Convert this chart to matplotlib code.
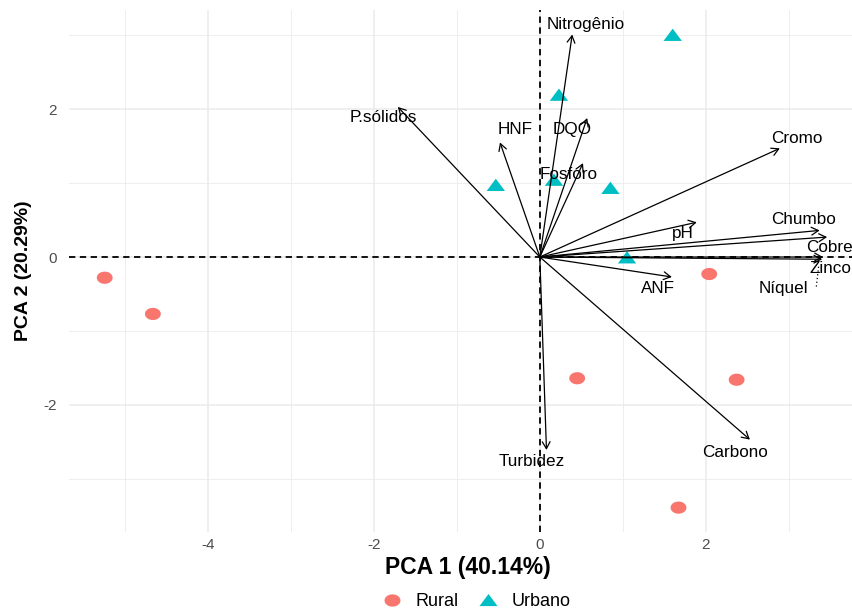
import numpy as np
import matplotlib
matplotlib.use("Agg")
import matplotlib.pyplot as plt
from matplotlib.path import Path
from matplotlib.lines import Line2D
from matplotlib import font_manager

# =========================
# DADOS
# =========================

# escores das amostras (PCA 1, PCA 2)
rural_x = [-5.24, -4.66, 0.45, 2.04, 2.37, 1.67]
rural_y = [-0.28, -0.77, -1.64, -0.23, -1.66, -3.39]

urbano_x = [1.60, 0.23, -0.53, 0.17, 0.85, 1.05]
urbano_y = [3.00, 2.19, 0.97, 1.04, 0.93, -0.01]

# cargas das variaveis (ponta das setas)
variaveis = ["Nitrogênio", "P.sólidos", "HNF", "DQO", "Fosforo", "Cromo", "pH",
             "Chumbo", "Cobre", "Zinco", "Níquel", "ANF", "Turbidez", "Carbono"]
carga_x = [0.39, -1.71, -0.48, 0.57, 0.52, 2.89, 1.89,
           3.37, 3.46, 3.41, 3.40, 1.59, 0.08, 2.53]
carga_y = [3.01, 2.03, 1.55, 1.88, 1.27, 1.47, 0.47,
           0.36, 0.27, 0.00, -0.03, -0.27, -2.61, -2.47]

# posicao dos rotulos (repel)
rotulo_x = [0.55, -1.89, -0.30, 0.39, 0.35, 3.10, 1.72,
            3.18, 3.49, 3.50, 2.93, 1.42, -0.10, 2.35]
rotulo_y = [3.15, 1.89, 1.72, 1.73, 1.12, 1.61, 0.32,
            0.51, 0.135, -0.15, -0.42, -0.43, -2.77, -2.65]

var_pc1 = 40.14
var_pc2 = 20.29

cor_rural = "#F8766D"
cor_urbano = "#00BFC4"

# =========================
# FONTES E MARCADORES
# =========================

plt.rcParams["font.family"] = ["Liberation Sans", "DejaVu Sans"]
plt.rcParams["axes.unicode_minus"] = False
nomes = {f.name for f in font_manager.fontManager.ttflist}
fonte_y = "Liberation Sans Narrow" if "Liberation Sans Narrow" in nomes else "Liberation Sans"

# a imagem original esta esticada na horizontal
t = np.linspace(0, 2 * np.pi, 60)
elipse = Path(np.column_stack([1.3 * np.cos(t), np.sin(t)]), closed=True)
triangulo = Path([(-1, -0.62), (1, -0.62), (0, 0.72), (-1, -0.62)], closed=True)

# =========================
# GRAFICO
# =========================

fig = plt.figure(figsize=(8.53, 6.09), dpi=100)
ax = fig.add_axes([0.0809, 0.1264, 0.9355, 0.857])

ax.scatter(rural_x, rural_y, marker=elipse, s=130, color=cor_rural,
           edgecolors="none", zorder=3)
ax.scatter(urbano_x, urbano_y, marker=triangulo, s=175, color=cor_urbano,
           edgecolors="none", zorder=3)

ax.axhline(0, color="black", lw=1.3, ls=(0, (3.5, 2.5)), zorder=2)
ax.axvline(0, color="black", lw=1.3, ls=(0, (3.5, 2.5)), zorder=2)

for nome, cx, cy, lx, ly in zip(variaveis, carga_x, carga_y, rotulo_x, rotulo_y):
    ax.annotate("", xy=(cx, cy), xytext=(0, 0),
                arrowprops=dict(arrowstyle="->,head_length=0.5,head_width=0.28",
                                lw=0.9, color="black", shrinkA=0, shrinkB=0,
                                mutation_scale=10),
                zorder=4)
    ax.text(lx, ly, nome, ha="center", va="center", fontsize=12.3,
            color="black", zorder=5)

# segmento do rotulo do Niquel
ax.plot([3.33, 3.36], [-0.40, -0.10], color="black", lw=0.9, ls=(0, (1, 2)), zorder=4)

ax.set_xlim(-5.67, 3.94)
ax.set_ylim(-3.72, 3.34)

ax.set_xticks([-4, -2, 0, 2])
ax.set_yticks([-2, 0, 2])
ax.set_xticks([-5, -3, -1, 1, 3], minor=True)
ax.set_yticks([-3, -1, 1, 3], minor=True)
ax.grid(which="major", color="#EBEBEB", lw=1.1)
ax.grid(which="minor", color="#EBEBEB", lw=0.6)
ax.set_axisbelow(True)
for s in ax.spines.values():
    s.set_visible(False)
ax.tick_params(which="both", length=0, labelsize=11, labelcolor="#4D4D4D")
ax.tick_params(axis="x", pad=4)
ax.tick_params(axis="y", pad=9)

ax.set_xlabel(f"PCA 1 ({var_pc1}%)", fontsize=16.5, fontweight="bold", labelpad=3)
ax.set_ylabel(f"PCA 2 ({var_pc2}%)", fontsize=14, fontweight="bold",
              family=[fonte_y, "DejaVu Sans"], labelpad=8)

legenda = [
    Line2D([], [], marker=elipse, ls="none", color=cor_rural, markersize=11.5,
           markeredgewidth=0, label="Rural"),
    Line2D([], [], marker=triangulo, ls="none", color=cor_urbano, markersize=13,
           markeredgewidth=0, label="Urbano"),
]
fig.legend(handles=legenda, loc="center", bbox_to_anchor=(476 / 853, 1 - 602 / 609),
           ncol=2, frameon=False, fontsize=13, handletextpad=0.7,
           columnspacing=1.0, handlelength=1.2)

fig.savefig("out.png", dpi=100)
